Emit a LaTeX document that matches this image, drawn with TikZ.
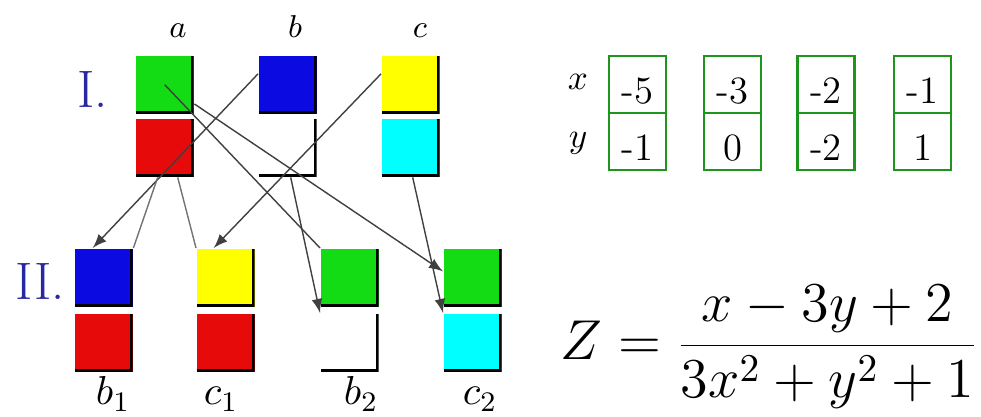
\RequirePackage{fix-cm}
\documentclass[tikz,border=0pt]{standalone}

\definecolor{cellgreen}{RGB}{20,220,20}
\definecolor{cellred}{RGB}{230,10,10}
\definecolor{cellblue}{RGB}{10,10,225}
\definecolor{cellyellow}{RGB}{255,255,0}
\definecolor{cellcyan}{RGB}{0,255,255}
\definecolor{romanblue}{RGB}{40,40,160}
\definecolor{tablegreen}{RGB}{30,150,30}

\tikzset{
    cell/.style = {minimum width = 0.58cm, minimum height = 0.58cm, inner sep = 0pt, anchor = north west,
        path picture = {\draw[line width = 1.4pt] (path picture bounding box.north east) -- (path picture bounding box.south east) -- (path picture bounding box.south west);}},
    numcell/.style = {draw = tablegreen, line width = 0.6pt, minimum width = 0.57cm, minimum height = 0.57cm,
        inner sep = 0pt, text height = 11pt, font = \fontsize{11}{13}\selectfont},
    wire/.style = {draw = black!75, line width = 0.4pt},
    lettertag/.style = {anchor = base, font = \fontsize{9}{11}\selectfont},
    childtag/.style = {anchor = base, font = \fontsize{11.5}{13}\selectfont},
    roman/.style = {anchor = base west, inner sep = 0pt, text = romanblue, font = \fontsize{15}{18}\selectfont}
}

\begin{document}
\begin{tikzpicture}
        \useasboundingbox (0,0) rectangle (9.81,4.17);

        % generation I (parents)
        \node[roman] (one) at (0.77,3.09) {I.};
        \node[lettertag] (la) at (1.78,3.79) {$a$};
        \node[lettertag] (lb) at (2.95,3.79) {$b$};
        \node[lettertag] (lc) at (4.20,3.79) {$c$};

        \node[cell, fill = cellgreen]  (aT) at (1.35,3.62) {};
        \node[cell, fill = cellred]    (aB) at (1.35,2.99) {};
        \node[cell, fill = cellblue]   (bT) at (2.58,3.62) {};
        \node[cell, fill = white]      (bB) at (2.58,2.99) {};
        \node[cell, fill = cellyellow] (cT) at (3.81,3.62) {};
        \node[cell, fill = cellcyan]   (cB) at (3.81,2.99) {};

        % generation II (children)
        \node[roman] (two) at (0.15,1.17) {II.};

        \node[cell, fill = cellblue]   (b1T) at (0.74,1.69) {};
        \node[cell, fill = cellred]    (b1B) at (0.74,1.04) {};
        \node[cell, fill = cellyellow] (c1T) at (1.96,1.69) {};
        \node[cell, fill = cellred]    (c1B) at (1.96,1.04) {};
        \node[cell, fill = cellgreen]  (b2T) at (3.20,1.69) {};
        \node[cell, fill = white]      (b2B) at (3.20,1.04) {};
        \node[cell, fill = cellgreen]  (c2T) at (4.43,1.69) {};
        \node[cell, fill = cellcyan]   (c2B) at (4.43,1.04) {};

        \node[childtag] (lb1) at (1.13,0.12) {$b_1$};
        \node[childtag] (lc1) at (2.21,0.12) {$c_1$};
        \node[childtag] (lb2) at (3.61,0.12) {$b_2$};
        \node[childtag] (lc2) at (4.80,0.12) {$c_2$};

        % crossover links
        \draw[wire, -latex] (bT.160) -- ([xshift = -0.11cm]b1T.north);
        \draw[wire, -latex] (cT.160) -- ([xshift = -0.12cm]c1T.north);
        \draw[wire, black!55] ([xshift = -0.07cm]aB.south) -- (b1T.north east);
        \draw[wire, black!55] ([xshift = 0.13cm]aB.south) -- (c1T.north west);
        \draw[wire] (aT.center) -- (b2T.north west);
        \draw[wire, -latex] (aT.-33) -- (c2T.168);
        \draw[wire, -latex] ([xshift = 0.03cm]bB.south) -- (b2B.north west);
        \draw[wire, -latex] ([xshift = 0.02cm]cB.south) -- (c2B.north west);

        % table of points
        \node[anchor = base, font = \fontsize{10}{12}\selectfont] (rx) at (5.78,3.27) {$x$};
        \node[anchor = base, font = \fontsize{10}{12}\selectfont] (ry) at (5.78,2.69) {$y$};

        \node[numcell] (x1) at (6.375,3.325) {-5};
        \node[numcell] (y1) at (6.375,2.755) {-1};
        \node[numcell] (x2) at (7.325,3.325) {-3};
        \node[numcell] (y2) at (7.325,2.755) {0};
        \node[numcell] (x3) at (8.26,3.325)  {-2};
        \node[numcell] (y3) at (8.26,2.755)  {-2};
        \node[numcell] (x4) at (9.225,3.325) {-1};
        \node[numcell] (y4) at (9.225,2.755) {1};

        % fitness
        \node[anchor = west, inner sep = 0pt, font = \fontsize{16}{19}\selectfont] (zform) at (5.6,0.70)
            {$\displaystyle Z = \frac{x-3y+2}{3x^2+y^2+1}$};
\end{tikzpicture}
\end{document}
